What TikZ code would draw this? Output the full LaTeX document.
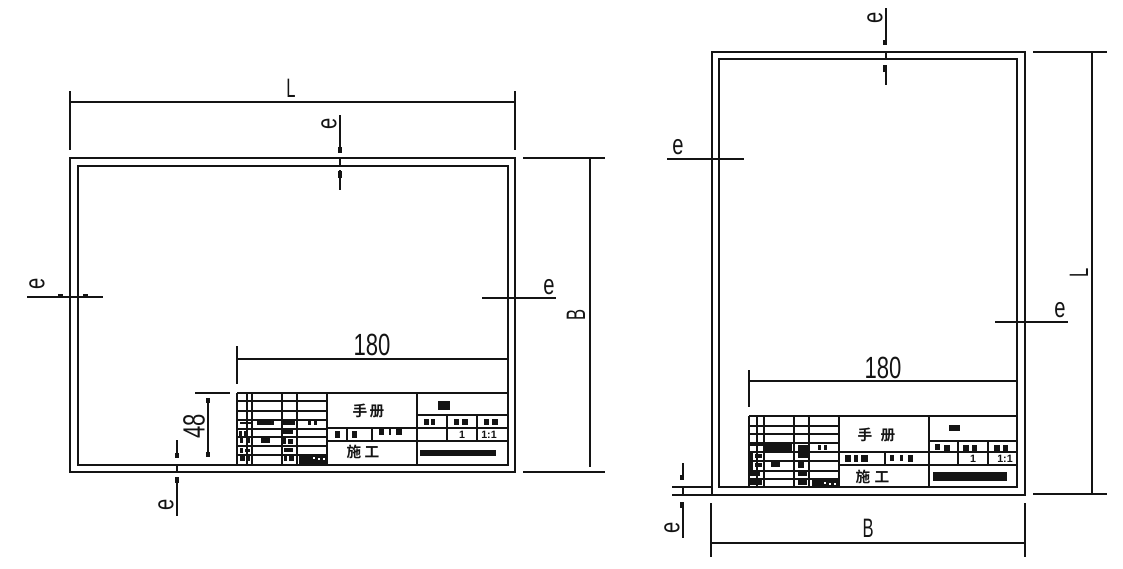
\documentclass[tikz,border=0pt]{standalone}
\usepackage{fontspec}
\setmainfont{Liberation Sans}
\newfontfamily\cjk[BoldFont={* Bold}]{Noto Sans CJK SC}
\newcommand{\blobr}[4]{\fill[inkc] (#1,#3) rectangle (#2,#4);}
\newcommand{\wdot}[2]{\fill[white] (#1,#2) rectangle +(1.5,2);}
\definecolor{inkc}{HTML}{141414}
\tikzset{
  x=0.75pt,y=-0.75pt,
  ln/.style={draw=inkc,line width=1pt},
  frm/.style={draw=inkc,line width=1.15pt},
  tipm/.style={draw=inkc,line width=3pt},
  dimtxt/.style={inner sep=0pt,text=inkc,font=\fontsize{23}{23}\selectfont,xscale=0.72},
  lettxt/.style={inner sep=0pt,text=inkc,font=\fontsize{20}{20}\selectfont,xscale=0.62},
  etxt/.style={inner sep=0pt,text=inkc,font=\fontsize{21}{21}\selectfont,xscale=0.72},
  cjktxt/.style={inner sep=0pt,text=inkc,font=\cjk\bfseries\fontsize{11}{12}\selectfont},
  numtxt/.style={inner sep=0pt,text=inkc,font=\bfseries\fontsize{8}{8}\selectfont},
}
\begin{document}
\begin{tikzpicture}
\useasboundingbox (0,0) rectangle (1123,568);
% ---------- left sheet ----------
\draw[frm] (70,158) rectangle (515,472);
\draw[frm] (78,166) rectangle (508,465);
% L
\draw[ln] (70,91) -- (70,150);
\draw[ln] (515,91) -- (515,150);
\draw[ln] (70,102) -- (515,102);
\node[lettxt] (tL1) at (291,88) {L};
% top e
\draw[ln] (340,115) -- (340,153);
\draw[tipm] (340,147) -- (340,153);
\draw[ln] (340,158) -- (340,166);
\draw[ln] (340,170) -- (340,190);
\draw[tipm] (340,171) -- (340,178);
\node[rotate=90,etxt] (te1) at (329,124) {e};
% left e
\draw[ln] (27,297) -- (103,297);
\draw[tipm] (58,296) -- (63,296);
\draw[tipm] (83,296) -- (88,296);
\node[rotate=90,etxt] (le1) at (37,284) {e};
% right e
\draw[ln] (482,298) -- (556,298);
\node[etxt] (re1) at (549,287) {e};
% B
\draw[ln] (523,158) -- (605,158);
\draw[ln] (523,472) -- (605,472);
\draw[ln] (590,158) -- (590,467);
\node[rotate=90,lettxt] (tB1) at (576,315) {B};
% 180
\draw[ln] (237,346) -- (237,384);
\draw[ln] (237,359) -- (508,359);
\node[dimtxt] (t1801) at (372,345) {180};
% 48
\draw[ln] (195,393) -- (230,393);
\draw[ln] (208,398) -- (208,457);
\draw[tipm] (208,398) -- (208,403);
\draw[tipm] (208,452) -- (208,457);
\node[rotate=90,dimtxt] (t48) at (194,426) {48};
% bottom e
\draw[ln] (177,440) -- (177,457);
\draw[tipm] (177,453) -- (177,458);
\draw[ln] (177,465) -- (177,472);
\draw[ln] (177,477) -- (177,516);
\draw[tipm] (177,477) -- (177,483);
\node[rotate=90,etxt] (be1) at (166,505) {e};
% title block left
\draw[frm] (237,393) -- (508,393);
\foreach \xx in {237,247,252,282,297,327,417}{\draw[ln] (\xx,393) -- (\xx,465);}
\foreach \yy in {401,411,420,429,437,446,455}{\draw[ln] (237,\yy) -- (327,\yy);}
\draw[ln] (327,428) -- (508,428);
\draw[ln] (327,441) -- (508,441);
\draw[ln] (417,415) -- (508,415);
\foreach \xx in {447,477}{\draw[ln] (\xx,415) -- (\xx,441);}
\foreach \xx in {347,372}{\draw[ln] (\xx,428) -- (\xx,441);}
\node[cjktxt] (s1a) at (360,411) {手};
\node[cjktxt] (s1b) at (377,411) {册};
\node[cjktxt] (s1c) at (354,452) {施};
\node[cjktxt] (s1d) at (372,452) {工};
\node[numtxt] (n1a) at (462,434.5) {1};
\node[numtxt] (n1b) at (489,434.5) {1:1};
\blobr{240}{251}{422}{424}\blobr{257}{274}{420}{425}\blobr{283}{295}{421}{425}\blobr{308}{311}{420}{425}\blobr{314}{317}{420}{425}
\blobr{239}{242}{431}{436}\blobr{244}{247}{431}{436}\blobr{283}{293}{430}{434}
\blobr{240}{243}{438}{443}\blobr{248}{250}{438}{443}\blobr{261}{270}{437}{443}\blobr{283}{286}{438}{444}\blobr{288}{293}{439}{444}
\blobr{240}{243}{448}{453}\blobr{245}{250}{449}{452}\blobr{284}{293}{448}{452}
\blobr{240}{245}{456}{461}\blobr{247}{250}{456}{461}\blobr{284}{287}{456}{461}\blobr{289}{294}{456}{461}
\blobr{299}{327}{455}{464}
\wdot{313}{457}\wdot{318}{458}\wdot{323}{458}
\blobr{438}{450}{401}{410}
\blobr{424}{429}{419}{425}\blobr{431}{435}{419}{425}\blobr{454}{459}{419}{425}\blobr{462}{468}{419}{425}\blobr{484}{489}{419}{425}\blobr{492}{498}{419}{425}
\blobr{335}{340}{431}{438}\blobr{352}{357}{431}{438}\blobr{379}{384}{429}{435}\blobr{389}{391}{429}{435}\blobr{396}{402}{429}{435}
\blobr{420}{496}{450}{456}
% ---------- right sheet ----------
\draw[frm] (712,52) rectangle (1025,495);
\draw[frm] (719,59) rectangle (1017,487);
% top e
\draw[ln] (886,8) -- (886,45);
\draw[tipm] (885,40) -- (885,45);
\draw[ln] (886,52) -- (886,59);
\draw[ln] (886,65) -- (886,85);
\draw[tipm] (885,65) -- (885,72);
\node[rotate=90,etxt] (te2) at (875,18) {e};
% left e
\draw[ln] (667,159) -- (744,159);
\node[etxt] (le2) at (678,147) {e};
% right e
\draw[ln] (995,322) -- (1068,322);
\node[etxt] (re2) at (1060,310) {e};
% L
\draw[ln] (1033,52) -- (1107,52);
\draw[ln] (1033,494) -- (1107,494);
\draw[ln] (1092,52) -- (1092,494);
\node[rotate=90,lettxt] (tL2) at (1079,273) {L};
% 180
\draw[ln] (749,370) -- (749,407);
\draw[ln] (749,381) -- (1017,381);
\node[dimtxt] (t1802) at (883,368) {180};
% bottom e
\draw[ln] (672,487) -- (712,487);
\draw[ln] (672,495) -- (712,495);
\draw[ln] (683,463) -- (683,480);
\draw[tipm] (682,475) -- (682,480);
\draw[ln] (683,487) -- (683,495);
\draw[ln] (683,502) -- (683,538);
\draw[tipm] (682,502) -- (682,508);
\node[rotate=90,etxt] (be2) at (672,528) {e};
% B
\draw[ln] (711,503) -- (711,557);
\draw[ln] (1025,503) -- (1025,557);
\draw[ln] (711,543) -- (1025,543);
\node[lettxt] (tB2) at (868,528) {B};
% title block right
\draw[frm] (749,416) -- (1017,416);
\foreach \xx in {749,757,764,794,809,839,929}{\draw[ln] (\xx,416) -- (\xx,487);}
\foreach \yy in {426,434,443,452,461,471,479}{\draw[ln] (749,\yy) -- (839,\yy);}
\draw[ln] (839,452) -- (1017,452);
\draw[ln] (839,465) -- (1017,465);
\draw[ln] (929,441) -- (1017,441);
\foreach \xx in {958,988}{\draw[ln] (\xx,441) -- (\xx,465);}
\draw[ln] (885,452) -- (885,465);
\node[cjktxt] (s2a) at (865,435) {手};
\node[cjktxt] (s2b) at (888,435) {册};
\node[cjktxt] (s2c) at (863,477) {施};
\node[cjktxt] (s2d) at (882,477) {工};
\node[numtxt] (n2a) at (973,458.5) {1};
\node[numtxt] (n2b) at (1005,458.5) {1:1};
\blobr{749}{763}{444}{446}\blobr{765}{792}{444}{451}\blobr{798}{808}{445}{451}\blobr{818}{821}{445}{450}\blobr{824}{827}{445}{450}
\blobr{749}{753}{452}{471}\blobr{755}{762}{454}{458}\blobr{798}{808}{452}{458}
\blobr{755}{762}{463}{467}\blobr{771}{780}{462}{467}\blobr{798}{804}{462}{468}
\blobr{750}{760}{472}{476}\blobr{798}{807}{472}{476}
\blobr{750}{762}{480}{485}\blobr{798}{807}{480}{485}
\blobr{812}{839}{480}{487}
\wdot{824}{482}\wdot{829}{483}\wdot{834}{483}
\blobr{949}{960}{425}{431}
\blobr{935}{940}{444}{450}\blobr{944}{950}{445}{451}\blobr{963}{969}{445}{451}\blobr{972}{977}{445}{451}\blobr{994}{1000}{445}{451}\blobr{1003}{1008}{445}{451}
\blobr{845}{851}{455}{462}\blobr{854}{858}{455}{462}\blobr{861}{868}{455}{462}
\blobr{890}{894}{455}{461}\blobr{900}{903}{455}{461}\blobr{908}{913}{455}{462}
\blobr{933}{1007}{472}{481}
\end{tikzpicture}
\end{document}
